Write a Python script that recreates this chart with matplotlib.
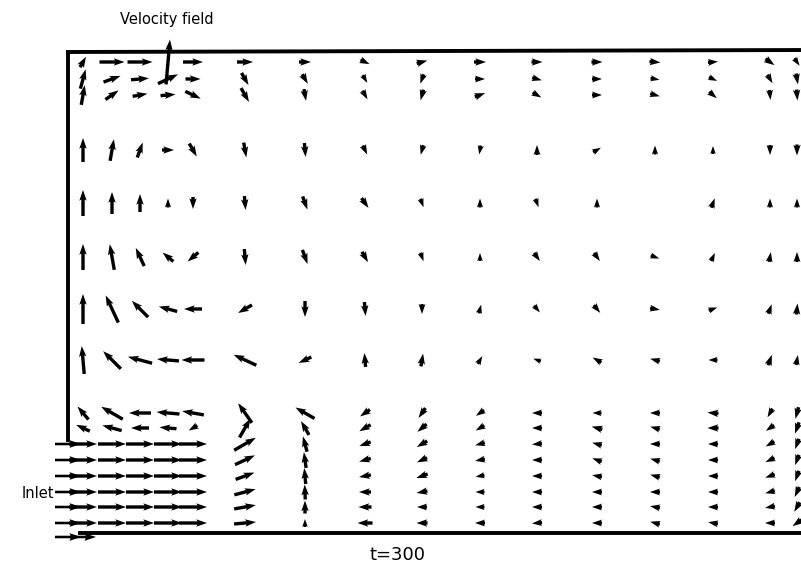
import numpy as np
import matplotlib
matplotlib.use("Agg")
import matplotlib.pyplot as plt

# grid nodes (x from left wall, y from bottom wall)
x_nodes = [0.15, 0.44, 0.72, 1.00, 1.25, 1.77, 2.37, 2.97, 3.54, 4.12,
           4.69, 5.29, 5.87, 6.45, 7.02, 7.29]
y_nodes = [4.71, 4.54, 4.38, 3.83, 3.30, 2.76, 2.24, 1.73, 1.20, 1.05,
           0.89, 0.73, 0.57, 0.41, 0.26, 0.10]

nan = np.nan
# direction of each vector (degrees), one row per y node
angle = [
    [60, 0, 0, 85, 0, 0, 0, -25, 15, 0, 0, 0, -5, 5, -35, -55],
    [75, 20, 5, 25, 0, -60, -60, -60, 250, 0, -15, 0, -10, -25, -60, -80],
    [80, 35, 10, 5, -25, -60, -80, -60, 255, 20, -30, 0, -15, -40, -85, -85],
    [90, 80, 70, 0, -60, -80, -85, -65, 255, 260, 90, 30, 90, 90, -90, -90],
    [90, 90, 90, 90, -90, -85, -70, -55, -70, 90, -70, 90, nan, 70, 90, 90],
    [90, 100, 115, 140, 220, -85, -70, -60, -70, 90, -55, -55, -20, 65, 80, 90],
    [90, 115, 135, 165, 180, 210, -90, -85, -90, 75, -50, -50, -10, 20, 70, 85],
    [95, 135, 165, 175, 180, 155, 205, 95, 80, 60, 160, 150, 165, 180, 70, 80],
    [130, 150, 180, 175, 170, 125, 150, 215, 235, 215, 180, 180, 180, 175, 240, 255],
    [155, 165, 180, 175, 210, 60, 120, 210, 220, 210, 180, 165, 165, 180, 215, 250],
    [0, 0, 0, 0, 0, 30, 105, 200, 210, 195, 185, 165, 180, 180, 210, 250],
    [0, 0, 0, 0, 0, 25, 98, 195, 205, 190, 180, 160, 165, 180, 205, 250],
    [0, 0, 0, 0, 0, 20, 95, 190, 200, 190, 180, 170, 165, 180, 200, 250],
    [0, 0, 0, 0, 0, 15, 92, 180, 190, 180, 180, 180, 180, 180, 195, 245],
    [0, 0, 0, 0, 0, 10, 90, 180, 180, 180, 180, 180, 170, 180, 190, 240],
    [0, 0, 0, 0, 0, 5, 90, 180, 180, 180, 185, 180, 165, 170, 180, 215],
]
# drawn length of each vector
speed = [
    [12, 25, 25, 45, 20, 16, 12, 10, 11, 12, 11, 11, 11, 10, 11, 9],
    [20, 18, 18, 22, 15, 14, 11, 9, 10, 10, 10, 10, 9, 9, 10, 11],
    [20, 16, 15, 15, 17, 16, 12, 10, 11, 11, 10, 10, 10, 10, 10, 11],
    [24, 22, 16, 12, 15, 15, 14, 10, 10, 9, 10, 9, 9, 8, 10, 11],
    [26, 22, 18, 9, 12, 14, 14, 12, 9, 9, 9, 9, nan, 10, 9, 9],
    [26, 26, 20, 14, 14, 16, 15, 12, 9, 8, 10, 10, 9, 9, 10, 10],
    [30, 30, 23, 19, 18, 16, 16, 14, 10, 9, 9, 10, 10, 9, 10, 11],
    [28, 25, 25, 22, 23, 25, 14, 14, 13, 9, 8, 10, 10, 9, 11, 10],
    [17, 25, 22, 23, 22, 24, 22, 12, 12, 10, 10, 9, 10, 11, 10, 12],
    [15, 20, 18, 17, 10, 22, 16, 13, 12, 10, 10, 11, 10, 11, 10, 12],
    [28, 28, 28, 28, 28, 25, 16, 12, 12, 10, 10, 10, 10, 10, 10, 11],
    [28, 28, 28, 28, 28, 22, 16, 12, 11, 10, 10, 10, 10, 10, 10, 11],
    [28, 28, 28, 28, 28, 20, 16, 12, 12, 9, 10, 10, 10, 10, 10, 11],
    [28, 28, 28, 28, 28, 22, 15, 12, 11, 9, 10, 10, 10, 10, 10, 11],
    [28, 28, 28, 28, 28, 22, 13, 13, 10, 9, 10, 10, 10, 10, 10, 11],
    [28, 28, 28, 28, 28, 22, 8, 15, 11, 10, 10, 10, 10, 10, 10, 11],
]

# inlet boundary nodes (horizontal inflow)
inlet_x = [0.0, 0.0, 0.0, 0.0, 0.0, 0.0, 0.0, 0.15]
inlet_y = [0.89, 0.73, 0.57, 0.41, 0.26, 0.10, -0.04, -0.04]
inlet_speed = [26, 26, 26, 26, 26, 26, 26, 26]

TOP, INLET_TOP = 4.81, 0.93


def main():
    X, Y = np.meshgrid(x_nodes, y_nodes)
    ang = np.deg2rad(np.array(angle, dtype=float))
    spd = np.array(speed, dtype=float)
    U = np.ma.masked_invalid(spd * np.cos(ang))
    V = np.ma.masked_invalid(spd * np.sin(ang))

    fig = plt.figure(figsize=(8.01, 5.68), dpi=100)
    ax = fig.add_axes([0, 0, 1, 1])
    ax.set_xlim(-0.68, 7.33)
    ax.set_ylim(-0.35, 5.33)
    ax.axis("off")

    qkw = dict(pivot="mid", angles="xy", scale_units="xy", scale=100,
               color="black", minshaft=1, minlength=0.5)
    # spindle-like glyphs as in the old plotter output
    ax.quiver(X, Y, U, V, width=0.0042, headwidth=2.2, headlength=3.2,
              headaxislength=2.8, **qkw)
    ax.quiver(inlet_x, inlet_y, inlet_speed, np.zeros(len(inlet_speed)),
              width=0.0032, headwidth=3, headlength=4.5, headaxislength=4, **qkw)

    # walls
    ax.plot([0, 7.4], [TOP, TOP + 0.02], color="black", lw=2.8)
    ax.plot([0, 0], [INLET_TOP, TOP], color="black", lw=2.8)
    ax.plot([0.12, 7.4], [0, 0], color="black", lw=2.8)

    ax.text(0.99, 5.13, "Velocity field", ha="center", va="center", fontsize=10.5)
    ax.text(-0.30, 0.40, "Inlet", ha="center", va="center", fontsize=10.5)
    ax.text(3.30, -0.22, "t=300", ha="center", va="center", fontsize=13)

    fig.savefig("out.png", dpi=100)


if __name__ == "__main__":
    main()
